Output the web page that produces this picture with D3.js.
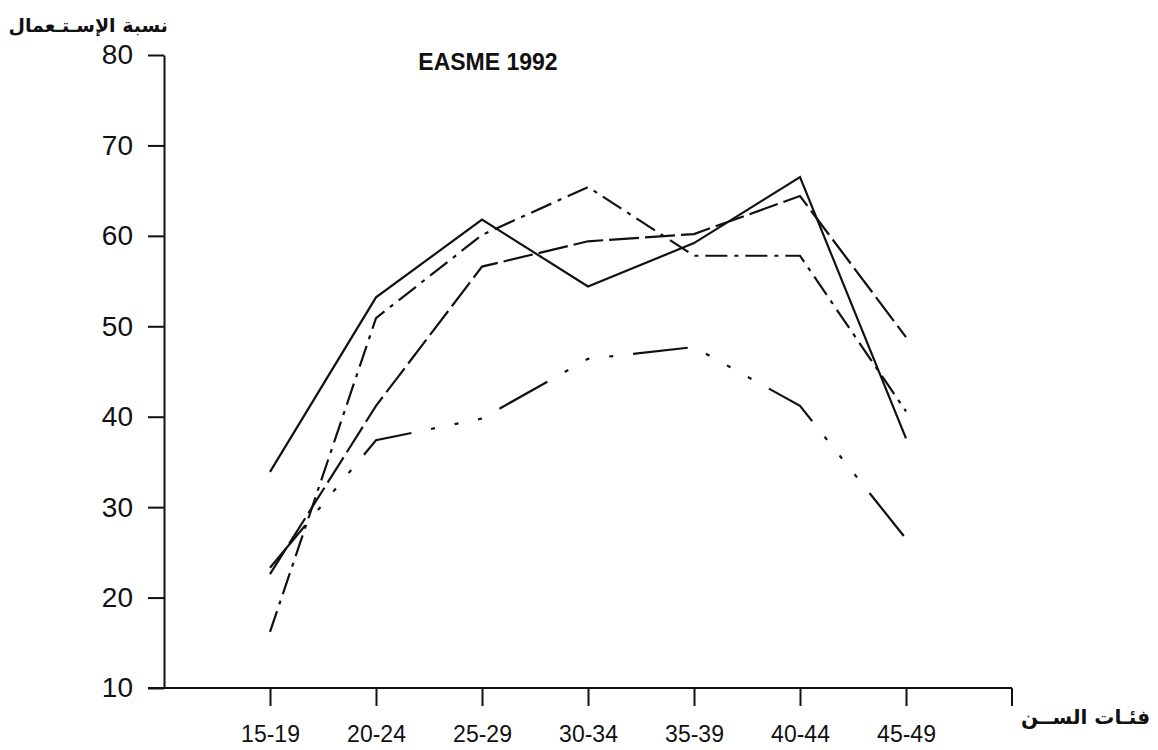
<!DOCTYPE html>
<html>
<head>
<meta charset="utf-8">
<script src="https://cdn.jsdelivr.net/npm/d3@7/dist/d3.min.js"></script>
<style>
  body { margin: 0; background: #fff; }
  text { font-family: 'Liberation Sans', Arial, sans-serif; fill: #111; }
  .tick line, .domain { stroke: #111; stroke-width: 2; }
  .arabic { font-family: 'DejaVu Sans', sans-serif; font-weight: bold; }
  .title { font-weight: bold; font-size: 23px; }
</style>
</head>
<body>
<svg width="1158" height="750"></svg>
<script>
const ageGroups = ['15-19', '20-24', '25-29', '30-34', '35-39', '40-44', '45-49'];
const yTicks = [10, 20, 30, 40, 50, 60, 70, 80];

// four survey curves
const solidSeries    = [33.9, 53.2, 61.8, 54.4, 59.2, 66.5, 37.6];
const dashDotSeries  = [16.2, 50.9, 60.1, 65.4, 57.8, 57.8, 40.6];
const longDashSeries = [22.6, 41.2, 56.6, 59.4, 60.2, 64.4, 48.8];
const dashDotsSeries = [23.3, 37.4, 39.8, 46.4, 47.7, 41.2, 26.5];

const svg = d3.select('svg');
const width = +svg.attr('width');
const height = +svg.attr('height');

const render = () => {
  const margin = {top: 55, right: 146, bottom: 62, left: 164};
  const innerWidth = width - margin.left - margin.right;
  const innerHeight = height - margin.top - margin.bottom;

  const xScale = d3.scalePoint()
    .domain(ageGroups)
    .range([0, innerWidth])
    .padding(1);

  const yScale = d3.scaleLinear()
    .domain([10, 80])
    .range([innerHeight, 0]);

  const g = svg.append('g')
    .attr('transform', `translate(${margin.left},${margin.top})`);

  // y axis
  const yAxisG = g.append('g')
    .call(d3.axisLeft(yScale).tickValues(yTicks).tickSize(16).tickSizeOuter(0).tickPadding(15));
  yAxisG.selectAll('text').style('font-size', '28px');

  // x axis
  const xAxisG = g.append('g')
    .attr('transform', `translate(0,${innerHeight})`)
    .call(d3.axisBottom(xScale).tickSize(18).tickSizeOuter(0).tickPadding(20));
  xAxisG.selectAll('text').style('font-size', '23px');
  xAxisG.select('.domain').remove();
  xAxisG.append('line')
    .attr('x1', -16).attr('x2', innerWidth)
    .attr('stroke', '#111').attr('stroke-width', 2);
  xAxisG.append('line')
    .attr('x1', innerWidth).attr('x2', innerWidth)
    .attr('y1', 0).attr('y2', 18)
    .attr('stroke', '#111').attr('stroke-width', 2);

  const line = d3.line()
    .x((d, i) => xScale(ageGroups[i]))
    .y(d => yScale(d));

  const series = [
    {values: solidSeries, dash: null},
    {values: dashDotSeries, dash: '22,7,4,7'},
    {values: longDashSeries, dash: '30,6'},
    {values: dashDotsSeries, dash: '55,20,4,20,4,20,4,20'}
  ];

  g.selectAll('path.series').data(series)
    .enter().append('path')
      .attr('class', 'series')
      .attr('d', d => line(d.values))
      .attr('fill', 'none')
      .attr('stroke', '#111')
      .attr('stroke-width', 2.2)
      .attr('stroke-dasharray', d => d.dash);

  g.append('text')
    .attr('class', 'title')
    .attr('x', xScale('30-34') - 100)
    .attr('y', 15)
    .attr('text-anchor', 'middle')
    .text('EASME 1992');

  // arabic axis titles
  svg.append('text')
    .attr('class', 'arabic')
    .attr('x', 168)
    .attr('y', 32)
    .attr('text-anchor', 'end')
    .style('font-size', '19px')
    .text('نسبة الإسـتـعمال');

  svg.append('text')
    .attr('class', 'arabic')
    .attr('x', 1150)
    .attr('y', 724)
    .attr('text-anchor', 'end')
    .style('font-size', '20px')
    .text('فئـات الســن');
};

render();
</script>
</body>
</html>
